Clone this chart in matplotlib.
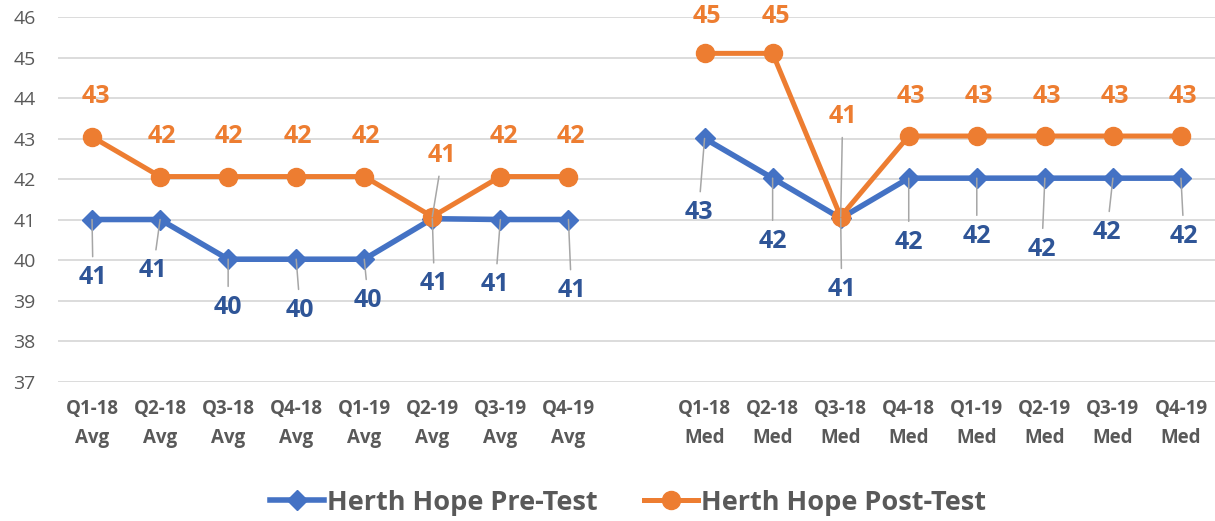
import numpy as np
import matplotlib.pyplot as plt

plt.rcParams['font.family'] = ['Open Sans', 'DejaVu Sans']

# === Chart data ===
quarters = ["Q1-18", "Q2-18", "Q3-18", "Q4-18", "Q1-19", "Q2-19", "Q3-19", "Q4-19"]
categories = [f"{q}\nAvg" for q in quarters] + [""] + [f"{q}\nMed" for q in quarters]

pre_avg = [41.01, 41.01, 40.03, 40.03, 40.03, 41.03, 41.01, 41.01]
pre_med = [43.01, 42.03, 41.04, 42.03, 42.03, 42.03, 42.03, 42.03]
post_avg = [43.05, 42.07, 42.07, 42.07, 42.07, 41.08, 42.07, 42.07]
post_med = [45.11, 45.11, 41.08, 43.07, 43.07, 43.07, 43.07, 43.07]

pre_test = np.array(pre_avg + [np.nan] + pre_med)
post_test = np.array(post_avg + [np.nan] + post_med)

# label offsets from each marker, in pixels (dx right, dy down)
pre_offsets = [(1, 58), (-7, 51), (0, 48), (4, 51), (4, 41), (2, 65), (-5, 65), (3, 71), None,
               (-6, 74), (0, 63), (1, 71), (0, 64), (0, 58), (-3, 71), (-6, 54), (3, 58)]
post_offsets = [(4, -40), (2, -40), (1, -40), (2, -40), (2, -40), (10, -61), (3, -40), (2, -40), None,
                (2, -37), (3, -37), (2, -100), (2, -40), (2, -40), (2, -40), (2, -40), (2, -40)]

BLUE = "#4472C4"
BLUE_TEXT = "#2F5597"
ORANGE = "#ED7D31"
GRAY = "#595959"

fig = plt.figure(figsize=(12.15, 5.21), dpi=100)
ax = fig.add_axes([58 / 1215, 1 - 382 / 521, (1215 - 58) / 1215, (382 - 17.3) / 521])
x = np.arange(len(categories))

ax.plot(x, pre_test, color=BLUE, lw=4, marker="D", ms=10, label="Herth Hope Pre-Test", zorder=2)
ax.plot(x, post_test, color=ORANGE, lw=3.6, marker="o", ms=13, label="Herth Hope Post-Test", zorder=2.5)


def add_labels(values, offsets, color, leader_min):
    for xi, (v, off) in enumerate(zip(values, offsets)):
        if off is None or np.isnan(v):
            continue
        dx, dy = off
        arrow = None
        if abs(dy) > leader_min:
            arrow = dict(arrowstyle="-", color="#A6A6A6", lw=1.1,
                         shrinkA=15, shrinkB=0, patchA=None)
        ax.annotate(f"{v:.0f}", (xi, v), xytext=(dx * 0.72, -dy * 0.72),
                    textcoords="offset points", ha="center", va="center",
                    fontsize=18, fontweight="bold", color=color,
                    arrowprops=arrow, zorder=4)


add_labels(pre_test, pre_offsets, BLUE_TEXT, 0)
add_labels(post_test, post_offsets, ORANGE, 50)

# === Axes styling ===
ax.set_xlim(-0.5, len(categories) - 0.5)
ax.set_ylim(37, 46)
ax.set_yticks(range(37, 47))
ax.set_xticks(x)
ax.set_xticklabels(categories, fontsize=13.5, fontweight="bold", color=GRAY, linespacing=1.6)
ax.tick_params(axis="x", length=0, pad=12)
ax.tick_params(axis="y", length=0, pad=16, labelsize=14, labelcolor=GRAY)
ax.yaxis.grid(True, color="#D9D9D9", lw=1.3)
ax.set_axisbelow(True)
for spine in ax.spines.values():
    spine.set_visible(False)

fig.legend(loc="center", bbox_to_anchor=(628 / 1215, 0.035), ncol=2, frameon=False,
           prop={"size": 19.5, "weight": "bold"}, labelcolor=GRAY,
           handlelength=2.0, handletextpad=0.1, columnspacing=1.7)

fig.savefig("out.png", dpi=100)
